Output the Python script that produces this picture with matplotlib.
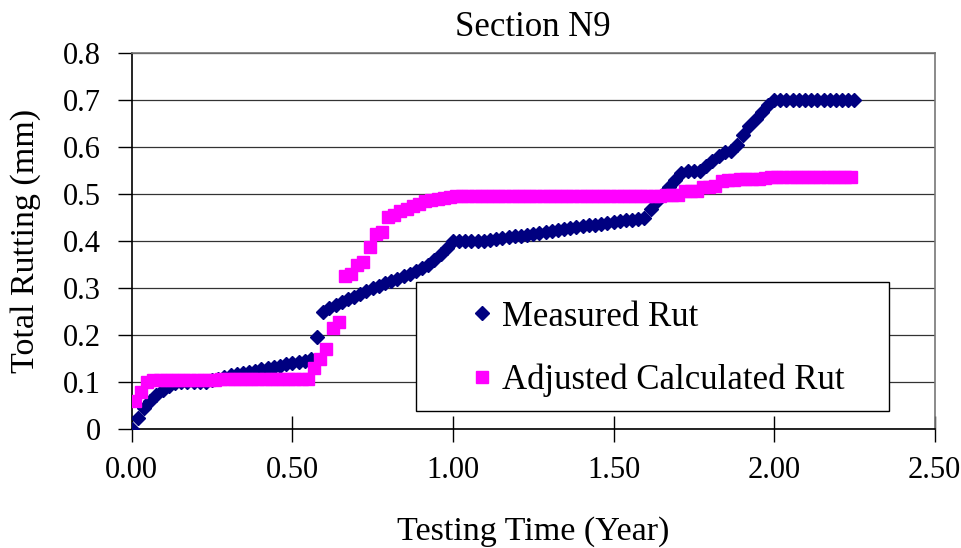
import matplotlib
matplotlib.use("Agg")
import numpy as np
import matplotlib.pyplot as plt
from matplotlib.patches import Rectangle
from matplotlib.lines import Line2D

plt.rcParams['font.family'] = ['Liberation Serif', 'DejaVu Serif']

# measured rut, sampled weekly (week number since start of testing)
meas_weeks = [
    0, 1, 2, 3, 4, 5, 6, 7, 8, 9, 10, 11, 12, 13, 14, 15, 16, 17, 18, 19,
    20, 21, 22, 23, 24, 25, 26, 27, 28, 29, 30, 31, 32, 33, 34, 35, 36, 37, 38, 39,
    40, 41, 42, 43, 44, 45, 46, 47, 48, 49, 50, 51, 52, 53, 54, 55, 56, 57, 58, 59,
    60, 61, 62, 63, 64, 65, 66, 67, 68, 69, 70, 71, 72, 73, 74, 75, 76, 77, 78, 79,
    80, 81, 82, 83, 84, 85, 86, 87, 88, 89, 90, 91, 92, 93, 94, 95, 96, 97, 98, 99,
    100, 101, 102, 103, 104, 105, 106, 107, 108, 109, 110, 111, 112, 113, 114, 115, 116, 117]
meas_rut = [
    0.0, 0.025, 0.045, 0.06, 0.072, 0.083, 0.092, 0.098, 0.10, 0.10,
    0.10, 0.10, 0.10, 0.105, 0.108, 0.112, 0.116, 0.118, 0.12, 0.122,
    0.125, 0.128, 0.13, 0.133, 0.135, 0.138, 0.14, 0.143, 0.146, 0.15,
    0.197, 0.25, 0.258, 0.265, 0.27, 0.276, 0.282, 0.288, 0.295, 0.30,
    0.305, 0.31, 0.315, 0.32, 0.325, 0.33, 0.336, 0.342, 0.35, 0.36,
    0.372, 0.385, 0.40, 0.40, 0.40, 0.40, 0.40, 0.40, 0.402, 0.404,
    0.406, 0.408, 0.41, 0.412, 0.414, 0.416, 0.418, 0.42, 0.422, 0.424,
    0.426, 0.428, 0.43, 0.432, 0.434, 0.435, 0.437, 0.439, 0.441, 0.443,
    0.445, 0.446, 0.447, 0.45, 0.468, 0.485, 0.50, 0.515, 0.53, 0.545,
    0.55, 0.55, 0.55, 0.56, 0.57, 0.58, 0.59, 0.592, 0.605, 0.625,
    0.645, 0.66, 0.675, 0.69, 0.70, 0.70, 0.70, 0.70, 0.70, 0.70,
    0.70, 0.70, 0.70, 0.70, 0.70, 0.70, 0.70, 0.70]

# adjusted calculated rut, mid-week samples
calc_weeks = [
    0.5, 1.5, 2.5, 3.5, 4.5, 5.5, 6.5, 7.5, 8.5, 9.5, 10.5, 11.5, 12.5, 13.5, 14.5,
    15.5, 16.5, 17.5, 18.5, 19.5, 20.5, 21.5, 22.5, 23.5, 24.5, 25.5, 26.5, 27.5, 28.5,
    29.5, 30.5, 31.5, 32.5, 33.5, 34.5, 35.5, 36.5, 37.5, 38.5, 39.5, 40.5, 41.5, 42.5,
    43.5, 44.5, 45.5, 46.5, 47.5, 48.5, 49.5, 50.5, 51.5, 52.5, 53.5, 54.5, 55.5, 56.5,
    57.5, 58.5, 59.5, 60.5, 61.5, 62.5, 63.5, 64.5, 65.5, 66.5, 67.5, 68.5, 69.5, 70.5,
    71.5, 72.5, 73.5, 74.5, 75.5, 76.5, 77.5, 78.5, 79.5, 80.5, 81.5, 82.5, 83.5, 84.5,
    85.5, 86.5, 87.5, 88.5, 89.5, 90.5, 91.5, 92.5, 93.5, 94.5, 95.5, 96.5, 97.5, 98.5,
    99.5, 100.5, 101.5, 102.5, 103.5, 104.5, 105.5, 106.5, 107.5, 108.5, 109.5, 110.5,
    111.5, 112.5, 113.5, 114.5, 115.5, 116.5]
calc_rut = [
    0.06, 0.08, 0.10, 0.104, 0.104, 0.104, 0.104, 0.104, 0.104, 0.104,
    0.104, 0.104, 0.104, 0.104, 0.108, 0.108, 0.108, 0.108, 0.108, 0.108,
    0.108, 0.108, 0.108, 0.108, 0.108, 0.108, 0.108, 0.108, 0.108, 0.13,
    0.15, 0.17, 0.215, 0.228, 0.325, 0.33, 0.35, 0.355, 0.388, 0.415,
    0.42, 0.452, 0.455, 0.465, 0.468, 0.475, 0.478, 0.485, 0.488, 0.49,
    0.492, 0.494, 0.495, 0.495, 0.495, 0.495, 0.495, 0.495, 0.495, 0.495,
    0.495, 0.495, 0.495, 0.495, 0.495, 0.495, 0.495, 0.495, 0.495, 0.495,
    0.495, 0.495, 0.495, 0.495, 0.495, 0.495, 0.495, 0.495, 0.495, 0.495,
    0.495, 0.495, 0.495, 0.495, 0.495, 0.495, 0.498, 0.498, 0.498, 0.506,
    0.507, 0.507, 0.516, 0.516, 0.518, 0.528, 0.529, 0.53, 0.532, 0.532,
    0.533, 0.533, 0.535, 0.537, 0.537, 0.537, 0.537, 0.537, 0.537, 0.537,
    0.537, 0.537, 0.537, 0.537, 0.537, 0.537, 0.537]

x_ticks = [0.0, 0.5, 1.0, 1.5, 2.0, 2.5]
x_ticklabels = ['0.00', '0.50', '1.00', '1.50', '2.00', '2.50']
y_ticks = [0, 0.1, 0.2, 0.3, 0.4, 0.5, 0.6, 0.7, 0.8]
y_ticklabels = ['0', '0.1', '0.2', '0.3', '0.4', '0.5', '0.6', '0.7', '0.8']

NAVY = '#000080'
MAGENTA = '#FF00FF'

meas_t = np.array(meas_weeks) / 52.0
calc_t = np.array(calc_weeks) / 52.0

fig = plt.figure(figsize=(9.62, 5.48), dpi=100)
ax = fig.add_axes([0.137, 0.2166, 0.8346, 0.6867])

ax.plot(meas_t, meas_rut, linestyle='none', marker='D', markersize=7.3,
        color=NAVY, zorder=4)
ax.plot(calc_t, calc_rut, linestyle='none', marker='s', markersize=8.5,
        color=MAGENTA, zorder=5)

ax.set_xlim(0, 2.5)
ax.set_ylim(0, 0.8)
ax.set_xticks(x_ticks)
ax.set_xticklabels(x_ticklabels)
ax.set_yticks(y_ticks)
ax.set_yticklabels(y_ticklabels)
ax.yaxis.grid(True, color='#333333', linewidth=0.9)
ax.set_axisbelow(True)

ax.tick_params(axis='x', direction='inout', length=19, width=1, labelsize=22, pad=10)
ax.tick_params(axis='y', direction='out', length=10, width=1, labelsize=22, pad=12)
for side in ['left', 'bottom']:
    ax.spines[side].set_color('black')
    ax.spines[side].set_linewidth(1.2)
for side in ['top', 'right']:
    ax.spines[side].set_color('#777777')
    ax.spines[side].set_linewidth(1.2)

ax.set_title('Section N9', fontsize=25, pad=12)
ax.set_xlabel('Testing Time (Year)', fontsize=24.5, labelpad=22)
ax.set_ylabel('Total Rutting (mm)', fontsize=24.5, labelpad=16)

# legend box
box = Rectangle((0.354, 0.049), 0.589, 0.342, transform=ax.transAxes,
                facecolor='white', edgecolor='black', linewidth=1, zorder=3)
ax.add_patch(box)
handles = [Line2D([], [], linestyle='none', marker='D', markersize=7, color=NAVY),
           Line2D([], [], linestyle='none', marker='s', markersize=8, color=MAGENTA)]
leg = ax.legend(handles, ['Measured Rut', 'Adjusted Calculated Rut'],
                loc='upper left', bbox_to_anchor=(0.414, 0.342), frameon=False,
                fontsize=25, borderpad=0, handlelength=1.0, handletextpad=0.1,
                labelspacing=0.87, borderaxespad=0)
leg.set_zorder(6)

fig.savefig('out.png', dpi=100)
